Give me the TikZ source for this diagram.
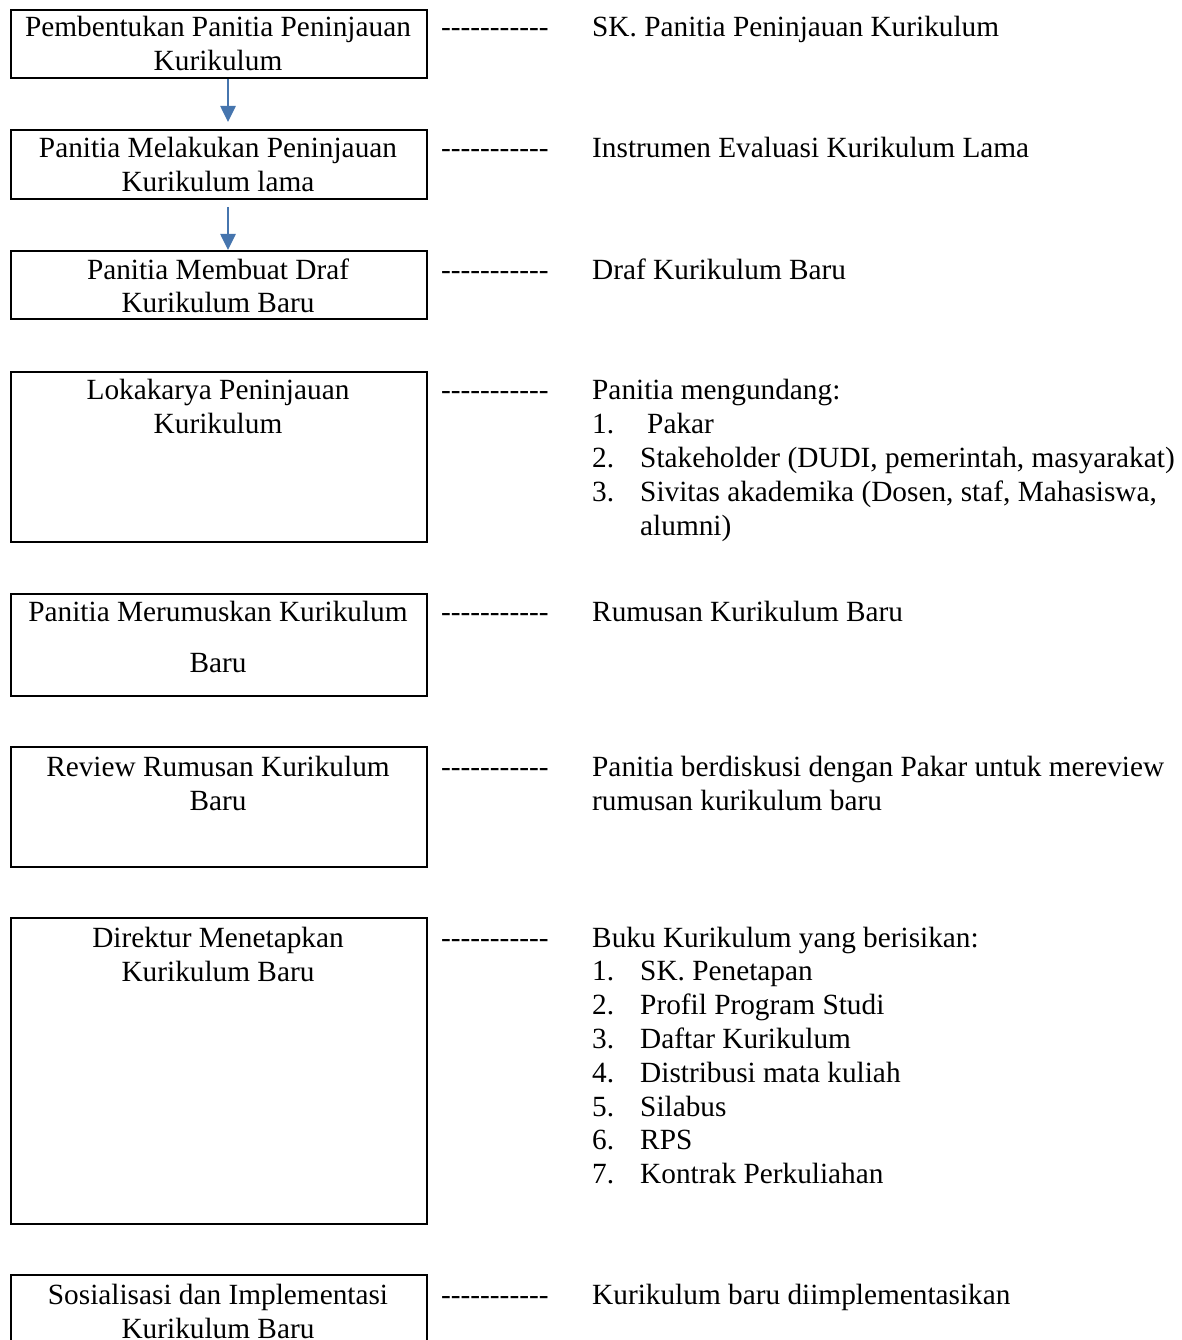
\documentclass[tikz,border=0pt]{standalone}
\usepackage{fontspec}
\setmainfont{Liberation Serif}
\usetikzlibrary{arrows.meta}
\definecolor{arrblue}{HTML}{4675AE}
\begin{document}
\begin{tikzpicture}[x=1pt,y=-1pt,
  box/.style={draw, line width=1.8pt, minimum width=416pt, anchor=north west, inner sep=0pt},
  txt/.style={anchor=base, inner sep=0pt, font=\fontsize{29.3}{34}\selectfont},
  rtxt/.style={anchor=base west, inner sep=0pt, font=\fontsize{29.3}{34}\selectfont},
  arr/.style={draw=arrblue, line width=2.6pt, -{Triangle[length=16pt,width=15pt]}}]
\clip (0,0) rectangle (1182,1340);
\useasboundingbox (0,0) rectangle (1182,1340);
% boxes
\node[box, minimum height=68pt] (b1) at (10,9) {};
\node[box, minimum height=69pt] (b2) at (10,129) {};
\node[box, minimum height=68pt] (b3) at (10,250) {};
\node[box, minimum height=170pt] (b4) at (10,371) {};
\node[box, minimum height=102pt] (b5) at (10,593) {};
\node[box, minimum height=120pt] (b6) at (10,746) {};
\node[box, minimum height=306pt] (b7) at (10,917) {};
\node[box, minimum height=80pt] (b8) at (10,1274) {};
% box texts
\node[txt] (t1a) at (218,37) {Pembentukan Panitia Peninjauan};
\node[txt] (t1b) at (218,71) {Kurikulum};
\node[txt] (t2a) at (218,158) {Panitia Melakukan Peninjauan};
\node[txt] (t2b) at (218,192) {Kurikulum lama};
\node[txt] (t3a) at (218,279) {Panitia Membuat Draf};
\node[txt] (t3b) at (218,312) {Kurikulum Baru};
\node[txt] (t4a) at (218,399) {Lokakarya Peninjauan};
\node[txt] (t4b) at (218,433) {Kurikulum};
\node[txt] (t5a) at (218,621) {Panitia Merumuskan Kurikulum};
\node[txt] (t5b) at (218,672) {Baru};
\node[txt] (t6a) at (218,776) {Review Rumusan Kurikulum};
\node[txt] (t6b) at (218,810) {Baru};
\node[txt] (t7a) at (218,947) {Direktur Menetapkan};
\node[txt] (t7b) at (218,981) {Kurikulum Baru};
\node[txt] (t8a) at (218,1304) {Sosialisasi dan Implementasi};
\node[txt] (t8b) at (218,1338) {Kurikulum Baru};
% dashes
\foreach \y/\n in {37/d1,158/d2,279/d3,399/d4,621/d5,776/d6,947/d7,1304/d8}
  \node[rtxt] (\n) at (441,\y) {-{}-{}-{}-{}-{}-{}-{}-{}-{}-{}-};
% right texts
\node[rtxt] (r1) at (592,37) {SK. Panitia Peninjauan Kurikulum};
\node[rtxt] (r2) at (592,158) {Instrumen Evaluasi Kurikulum Lama};
\node[rtxt] (r3) at (592,279) {Draf Kurikulum Baru};
\node[rtxt] (r4) at (592,399) {Panitia mengundang:};
\node[rtxt] (r4n1) at (592,433) {1.};
\node[rtxt] (r4i1) at (647,433) {Pakar};
\node[rtxt] (r4n2) at (592,467) {2.};
\node[rtxt] (r4i2) at (640,467) {Stakeholder (DUDI, pemerintah, masyarakat)};
\node[rtxt] (r4n3) at (592,501) {3.};
\node[rtxt] (r4i3) at (640,501) {Sivitas akademika (Dosen, staf, Mahasiswa,};
\node[rtxt] (r4i3b) at (640,535) {alumni)};
\node[rtxt] (r5) at (592,621) {Rumusan Kurikulum Baru};
\node[rtxt] (r6a) at (592,776) {Panitia berdiskusi dengan Pakar untuk mereview};
\node[rtxt] (r6b) at (592,810) {rumusan kurikulum baru};
\node[rtxt] (r7) at (592,947) {Buku Kurikulum yang berisikan:};
\foreach \i/\t [evaluate=\i as \yy using 947+33.8*\i] in {1/SK. Penetapan,2/Profil Program Studi,3/Daftar Kurikulum,4/Distribusi mata kuliah,5/Silabus,6/RPS,7/Kontrak Perkuliahan}{
  \node[rtxt] (r7n\i) at (592,\yy) {\i.};
  \node[rtxt] (r7i\i) at (640,\yy) {\t};
}
\node[rtxt] (r8) at (592,1304) {Kurikulum baru diimplementasikan};
% arrows
\draw[arr, shorten >=7pt] (b1.south -| 228,0) -- (b2.north -| 228,0);
\draw[arr, shorten <=7pt] (b2.south -| 228,0) -- (b3.north -| 228,0);
\end{tikzpicture}
\end{document}
